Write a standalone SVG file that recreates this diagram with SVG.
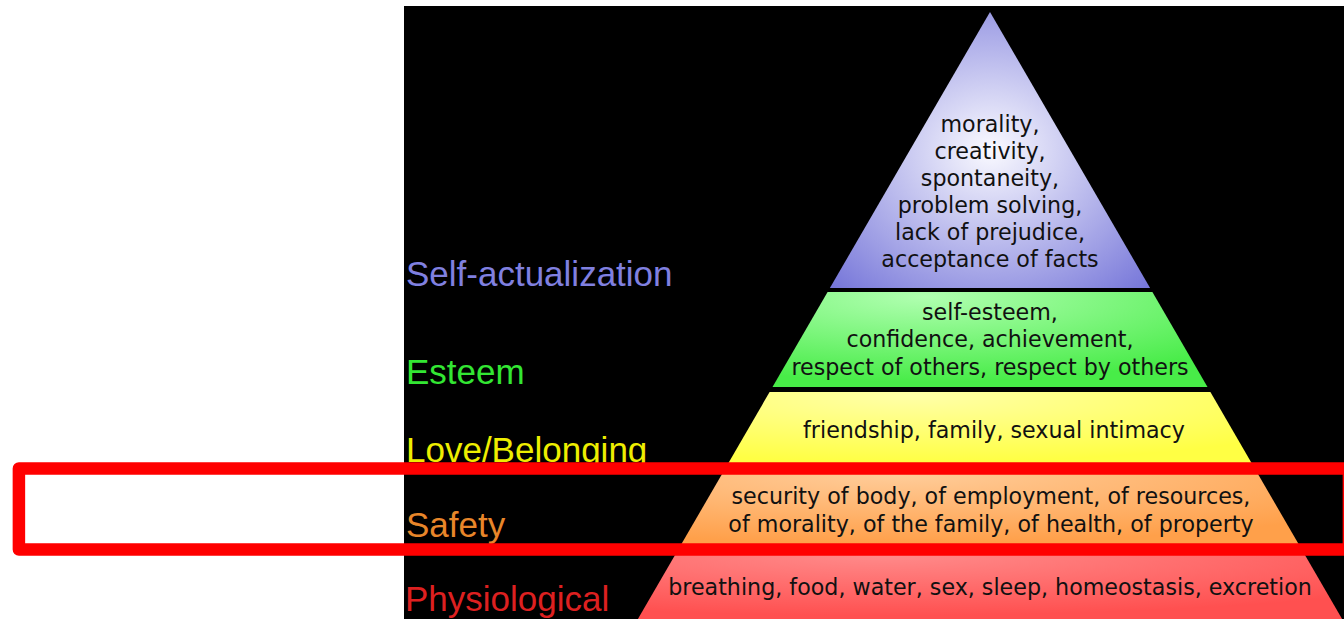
<svg xmlns="http://www.w3.org/2000/svg" width="1344" height="619" viewBox="0 0 1344 619">
<style>
.lbl{font-family:"Liberation Sans",Arial,sans-serif;font-size:35px}
.txt{font-family:"DejaVu Sans",sans-serif;font-size:22.2px;fill:#111;text-anchor:middle}
</style>
<defs>
<radialGradient id="gBlue" cx="0.5" cy="0.5" r="0.72">
<stop offset="0" stop-color="#fafaff"/><stop offset="1" stop-color="#7272d8"/>
</radialGradient>
<radialGradient id="gGreen" cx="0.35" cy="0.05" r="0.9">
<stop offset="0" stop-color="#b0ffb0"/><stop offset="1" stop-color="#48ec48"/>
</radialGradient>
<radialGradient id="gYellow" cx="0.35" cy="0.05" r="0.9">
<stop offset="0" stop-color="#ffffa8"/><stop offset="1" stop-color="#ffff44"/>
</radialGradient>
<radialGradient id="gOrange" cx="0.35" cy="0.05" r="0.9">
<stop offset="0" stop-color="#ffcc99"/><stop offset="1" stop-color="#ffa04a"/>
</radialGradient>
<radialGradient id="gRed" cx="0.35" cy="0.05" r="0.9">
<stop offset="0" stop-color="#ff8a8a"/><stop offset="1" stop-color="#ff5050"/>
</radialGradient>
</defs>
<rect x="0" y="0" width="1344" height="619" fill="#ffffff"/>
<rect x="404" y="6" width="940" height="613" fill="#000000"/>

<g id="self-actualization">
<polygon points="990,12 1150.1,288 829.9,288" fill="url(#gBlue)"/>
<text class="lbl" x="406" y="285.5" fill="#8080e0">Self-actualization</text>
<text class="txt"><tspan x="990" y="131.5">morality,</tspan><tspan x="990" y="158.5">creativity,</tspan><tspan x="990" y="185.5">spontaneity,</tspan><tspan x="990" y="212.5">problem solving,</tspan><tspan x="990" y="239.5">lack of prejudice,</tspan><tspan x="990" y="266.5">acceptance of facts</tspan></text>
</g>

<g id="esteem">
<polygon points="827.6,292 1152.4,292 1207.5,387 772.5,387" fill="url(#gGreen)"/>
<text class="lbl" x="406" y="384" fill="#33e633">Esteem</text>
<text class="txt"><tspan x="990" y="319.5">self-esteem,</tspan><tspan x="990" y="347">confidence, achievement,</tspan><tspan x="990" y="374.5">respect of others, respect by others</tspan></text>
</g>

<g id="love-belonging">
<polygon points="769.6,392 1210.4,392 1253.3,466 726.7,466" fill="url(#gYellow)"/>
<text class="lbl" x="406" y="462" fill="#eeee00">Love/Belonging</text>
<text class="txt" x="994" y="438.3">friendship, family, sexual intimacy</text>
</g>

<g id="safety">
<polygon points="723.8,471 1256.2,471 1300.3,547 679.7,547" fill="url(#gOrange)"/>
<text class="lbl" x="406" y="537" fill="#e8862a">Safety</text>
<text class="txt"><tspan x="991" y="504.3">security of body, of employment, of resources,</tspan><tspan x="991" y="531.7">of morality, of the family, of health, of property</tspan></text>
</g>

<g id="physiological">
<polygon points="676.8,552 1303.2,552 1342.1,619 637.9,619" fill="url(#gRed)"/>
<text class="lbl" x="405" y="610.5" fill="#dd2020">Physiological</text>
<text class="txt" x="990" y="595">breathing, food, water, sex, sleep, homeostasis, excretion</text>
</g>

<g id="highlight">
<rect x="18.9" y="468.5" width="1330" height="81" fill="none" stroke="#ff0000" stroke-width="12.5" stroke-linejoin="round"/>
</g>
</svg>
